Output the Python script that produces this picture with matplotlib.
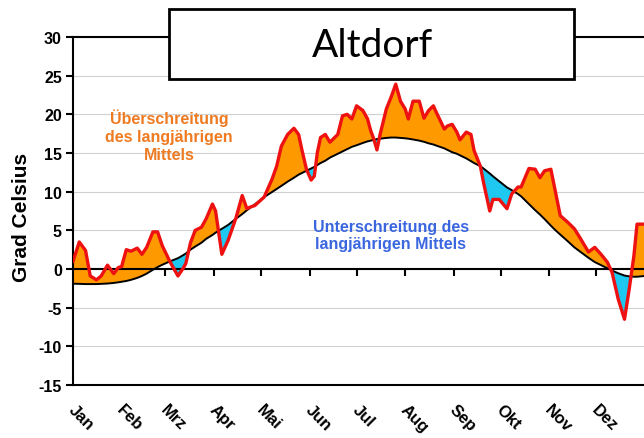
import matplotlib
matplotlib.use('Agg')
import matplotlib.pyplot as plt
from matplotlib.patches import Rectangle
import numpy as np

plt.rcParams['font.family'] = ['Liberation Sans', 'DejaVu Sans']
plt.rcParams['axes.unicode_minus'] = False

# Tag im Jahr (0 = 1. Januar)
tage = [0, 4, 8, 11, 15, 18, 22, 26, 29, 31, 34, 37, 41, 44, 47, 51, 54, 57,
        62, 67, 70, 72, 75, 78, 82, 85, 89, 91, 95, 99, 104, 108, 111, 113,
        116, 122, 127, 130, 133, 137, 141, 144, 146, 149, 152, 154, 156, 158,
        161, 164, 169, 172, 175, 178, 181, 185, 188, 190, 192, 194, 196, 200,
        203, 206, 209, 212, 214, 217, 221, 224, 227, 230, 232, 237, 239, 242,
        245, 247, 251, 254, 256, 260, 262, 266, 268, 272, 277, 280, 284, 286,
        291, 295, 298, 301, 305, 308, 311, 316, 320, 324, 329, 333, 337, 341,
        344, 348, 352, 355, 358, 360, 365]

# Tagesmittel (geglaettet) des Jahres
temperatur = [1.0, 3.5, 2.4, -0.9, -1.4, -0.9, 0.5, -0.6, 0.2, 0.3, 2.5, 2.3,
              2.7, 1.9, 2.8, 4.8, 4.8, 3.0, 0.9, -0.9, 0.0, 0.7, 3.4, 5.0,
              5.4, 6.5, 8.4, 7.5, 1.9, 3.7, 6.6, 9.5, 7.8, 8.0, 8.2, 9.3,
              11.6, 13.3, 15.9, 17.4, 18.2, 17.4, 15.5, 12.9, 11.5, 12.0, 15.1,
              17.0, 17.4, 16.4, 17.4, 19.8, 20.0, 19.4, 21.1, 20.5, 19.4, 17.9,
              16.8, 15.4, 17.4, 20.7, 22.2, 23.9, 21.7, 20.7, 19.4, 21.7, 21.7,
              19.5, 20.5, 21.1, 20.2, 18.1, 18.5, 18.7, 17.7, 16.7, 17.7, 17.4,
              15.3, 13.3, 11.2, 7.5, 9.0, 9.0, 7.8, 9.7, 10.6, 10.6, 13.0, 12.9,
              11.8, 12.7, 12.9, 9.9, 6.9, 6.0, 5.2, 3.9, 2.2, 2.8, 1.9, 0.9,
              -0.4, -3.9, -6.5, -2.6, 1.7, 5.8, 5.8]

# langjaehriges Mittel
mittel = [-1.9, -1.92, -1.95, -1.95, -1.95, -1.92, -1.88, -1.8, -1.72, -1.65,
          -1.55, -1.4, -1.15, -0.9, -0.6, -0.1, 0.25, 0.55, 1.0, 1.4, 1.75,
          2.0, 2.5, 2.9, 3.4, 3.9, 4.4, 4.7, 5.2, 5.7, 6.5, 7.1, 7.6, 7.9,
          8.35, 9.3, 9.95, 10.35, 10.75, 11.3, 11.8, 12.2, 12.4, 12.7, 13.0,
          13.2, 13.45, 13.7, 14.0, 14.4, 14.9, 15.2, 15.5, 15.8, 16.0, 16.3,
          16.5, 16.6, 16.7, 16.8, 16.85, 16.95, 17.0, 17.0, 16.95, 16.9,
          16.85, 16.75, 16.6, 16.45, 16.25, 16.1, 15.95, 15.6, 15.4, 15.1,
          14.9, 14.7, 14.3, 13.95, 13.7, 13.3, 13.0, 12.35, 12.0, 11.35,
          10.55, 10.2, 9.7, 9.4, 8.4, 7.6, 7.05, 6.45, 5.6, 5.0, 4.45, 3.55,
          2.8, 2.2, 1.45, 0.9, 0.5, 0.1, -0.2, -0.55, -0.85, -0.95, -1.0,
          -1.0, -0.9]

monatsanfang = [0, 31, 59, 90, 120, 151, 181, 212, 243, 273, 304, 334]
monate = ['Jan', 'Feb', 'Mrz', 'Apr', 'Mai', 'Jun', 'Jul', 'Aug', 'Sep',
          'Okt', 'Nov', 'Dez']

x = np.array(tage)
t = np.array(temperatur)
m = np.array(mittel)

fig = plt.figure(figsize=(6.44, 4.39), dpi=100)
ax = fig.add_axes([73 / 644, 53 / 439, 575 / 644, 348 / 439])

ax.set_xlim(0, 367)
ax.set_ylim(-15, 30)
ax.set_yticks(range(-15, 31, 5))
ax.yaxis.grid(True, color='#d0d0d0', linewidth=0.8)
ax.set_axisbelow(True)

# Flaechen ueber / unter dem Mittel
ax.fill_between(x, m, t, where=t >= m, interpolate=True, color='#ff9900',
                linewidth=0, zorder=2)
ax.fill_between(x, m, t, where=t < m, interpolate=True, color='#1ec8f0',
                linewidth=0, zorder=2)

# Nulllinie mit Monatsstrichen
ax.axhline(0, color='black', linewidth=1.5, zorder=3)
ax.vlines(monatsanfang, -0.9, 0, color='black', linewidth=1.5, zorder=1.5)

ax.plot(x, m, color='black', linewidth=1.4, zorder=4)
ax.plot(x, t, color='#ee1111', linewidth=2.4, zorder=5,
        solid_joinstyle='round')

for s in ax.spines.values():
    s.set_linewidth(1.5)
    s.set_color('black')

ax.set_xticks(np.array(monatsanfang) + 2)
ax.set_xticklabels(monate)
ax.tick_params(axis='x', length=0, pad=12)
ax.tick_params(axis='y', length=5, width=1.5, direction='out', pad=3)
for lbl in ax.get_xticklabels():
    lbl.set_rotation(-45)
    lbl.set_ha('left')
    lbl.set_va('top')
    lbl.set_rotation_mode('anchor')
    lbl.set_fontweight('bold')
    lbl.set_fontsize(12)
for lbl in ax.get_yticklabels():
    lbl.set_fontweight('bold')
    lbl.set_fontsize(11.5)

fig.text(0.033, 0.505, 'Grad Celsius', rotation=90, ha='center', va='center',
         fontsize=15, fontweight='bold')

fig.text(169 / 644, 1 - 136 / 439, 'Überschreitung\ndes langjährigen\nMittels',
         ha='center', va='center', fontsize=11.5, fontweight='bold',
         color='#ee7b22', linespacing=1.25)
fig.text(391 / 644, 1 - 236 / 439, 'Unterschreitung des\nlangjährigen Mittels',
         ha='center', va='center', fontsize=11.5, fontweight='bold',
         color='#3a66e0', linespacing=1.2)

# Titelkasten
box = Rectangle((169 / 644, 1 - 80 / 439), 405 / 644, 70 / 439,
                transform=fig.transFigure, facecolor='white',
                edgecolor='black', linewidth=2, zorder=10)
fig.patches.append(box)
fig.text(372 / 644, 1 - 46 / 439, 'Altdorf', ha='center', va='center',
         fontsize=28, family=['Lato', 'DejaVu Sans'], zorder=11)

plt.savefig('out.png', dpi=100)
